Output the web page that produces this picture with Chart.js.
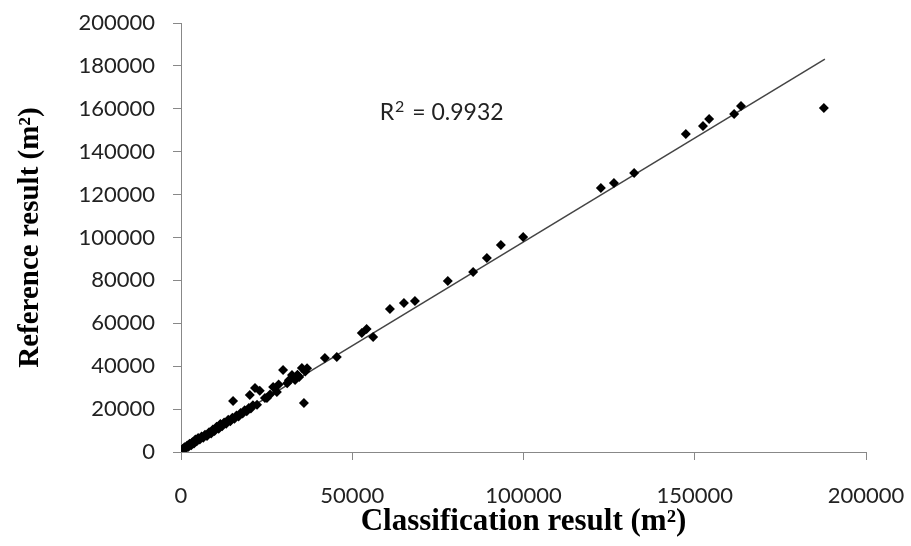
<!DOCTYPE html>
<html>
<head>
<meta charset="utf-8">
<script src="https://cdn.jsdelivr.net/npm/chart.js@4"></script>
<style>
  html, body { margin: 0; padding: 0; background: #fff; }
  #wrap { width: 911px; height: 546px; }
</style>
</head>
<body>
<div id="wrap"><canvas id="scatter"></canvas></div>
<script>
// classification result (x) vs reference result (y), m2
const classX = [0, 300, 600, 1000, 1500, 1800, 2200, 2500, 3000, 3300, 3800, 4200, 4600, 5000, 5500, 6000, 6500, 7000, 7600, 8200,
  8800, 9300, 9800, 10400, 11000, 11500, 12000, 12600, 13200, 13800, 14400, 15200, 15000, 15600, 16200, 16800, 17400, 18000, 18600, 19200,
  19800, 20100, 20400, 21000, 21600, 22200, 23000, 24500, 25100, 26000, 26900, 28000, 28500, 29800, 31000, 31500, 32400, 33300, 34000, 34500,
  35300, 35900, 36300, 36800,
  42000, 45500, 52800, 54200, 56100, 61000, 65100, 68300, 77900, 85300, 89300, 93400, 99900,
  122600, 126400, 132300, 147400, 152400, 154200, 161500, 163500, 187700];
const refY = [0, 800, 1500, 2200, 1800, 3000, 2500, 3800, 3200, 4500, 4000, 5800, 5000, 6500, 5800, 7200, 6600, 8000, 7500, 9200,
  8600, 10500, 9800, 11800, 10800, 13000, 12000, 13800, 13200, 15000, 14300, 23800, 16000, 15500, 17000, 16600, 18200, 18000, 19500, 19000,
  20500, 26600, 20300, 21800, 29800, 22000, 28500, 25200, 25200, 26800, 30300, 28000, 31500, 38200, 32000, 33500, 35900, 33600, 36000, 35000,
  39200, 22800, 37500, 39000,
  43800, 44300, 55500, 57300, 53600, 66700, 69500, 70400, 79700, 83900, 90400, 96500, 100200,
  123100, 125400, 130100, 148300, 152000, 155200, 157600, 161300, 160400];

// linear trend line end points
const trendX = [0, 188000];
const trendY = [1100, 183200];

const xTicks = [0, 50000, 100000, 150000, 200000];
const yTicks = [0, 20000, 40000, 60000, 80000, 100000, 120000, 140000, 160000, 180000, 200000];

const points = classX.map((x, i) => ({ x: x, y: refY[i] }));
const trend = trendX.map((x, i) => ({ x: x, y: trendY[i] }));

// R2 text written on the plot, with a raised "2"
const r2Plugin = {
  id: "r2",
  afterDatasetsDraw(chart) {
    const ctx = chart.ctx;
    const xs = chart.scales.x, ys = chart.scales.y;
    let x = xs.getPixelForValue(58000);
    const y = ys.getPixelForValue(155000);
    ctx.save();
    ctx.fillStyle = "#222";
    ctx.textBaseline = "alphabetic";
    ctx.font = "23px Lato, 'Open Sans', sans-serif";
    ctx.fillText("R", x, y);
    x += ctx.measureText("R").width + 1;
    ctx.font = "16px Lato, 'Open Sans', sans-serif";
    ctx.fillText("2", x, y - 8);
    x += ctx.measureText("2").width + 2;
    ctx.font = "23px Lato, 'Open Sans', sans-serif";
    ctx.fillText(" = 0.9932", x, y);
    ctx.restore();
  },
};

const tickFont = { family: "Lato, 'Open Sans', sans-serif", size: 22 };
const titleFont = { family: "'Liberation Serif', 'Times New Roman', serif", size: 31, weight: "bold" };

new Chart(document.getElementById("scatter"), {
  type: "scatter",
  data: {
    datasets: [
      {
        label: "points",
        data: points,
        pointStyle: "rectRot",
        pointRadius: 5,
        pointHoverRadius: 5,
        backgroundColor: "#000",
        borderColor: "#000",
        borderWidth: 0,
      },
      {
        label: "trend",
        data: trend,
        showLine: true,
        pointRadius: 0,
        borderColor: "#444",
        borderWidth: 1.5,
      },
    ],
  },
  options: {
    responsive: true,
    maintainAspectRatio: false,
    animation: false,
    layout: { padding: { left: 0, right: 45, top: 23, bottom: 0 } },
    plugins: { legend: { display: false }, tooltip: { enabled: false } },
    scales: {
      x: {
        type: "linear",
        min: 0,
        max: 200000,
        afterBuildTicks: (s) => { s.ticks = xTicks.map((v) => ({ value: v })); },
        afterFit: (s) => { s.height = 94; s.paddingLeft = 0; s.paddingRight = 0; },
        grid: { drawOnChartArea: false, drawTicks: true, tickLength: 8, color: "#888" },
        border: { display: true, color: "#888", width: 1 },
        ticks: { font: tickFont, color: "#222", padding: 23, maxRotation: 0, callback: (v) => String(v) },
        title: { display: true, text: "Classification result (m\u00b2)", font: titleFont, color: "#000", padding: { top: 0, bottom: 5 } },
      },
      y: {
        type: "linear",
        min: 0,
        max: 200000,
        afterBuildTicks: (s) => { s.ticks = yTicks.map((v) => ({ value: v })); },
        afterFit: (s) => { s.width = 181; s.paddingTop = 0; s.paddingBottom = 0; },
        grid: { drawOnChartArea: false, drawTicks: true, tickLength: 8, color: "#888" },
        border: { display: true, color: "#888", width: 1 },
        ticks: { font: tickFont, color: "#222", padding: 18, callback: (v) => String(v) },
        title: { display: true, text: "Reference result (m\u00b2)", font: { ...titleFont, size: 29 }, color: "#000", padding: { top: 13, bottom: 0 } },
      },
    },
  },
  plugins: [r2Plugin],
});
</script>
</body>
</html>
